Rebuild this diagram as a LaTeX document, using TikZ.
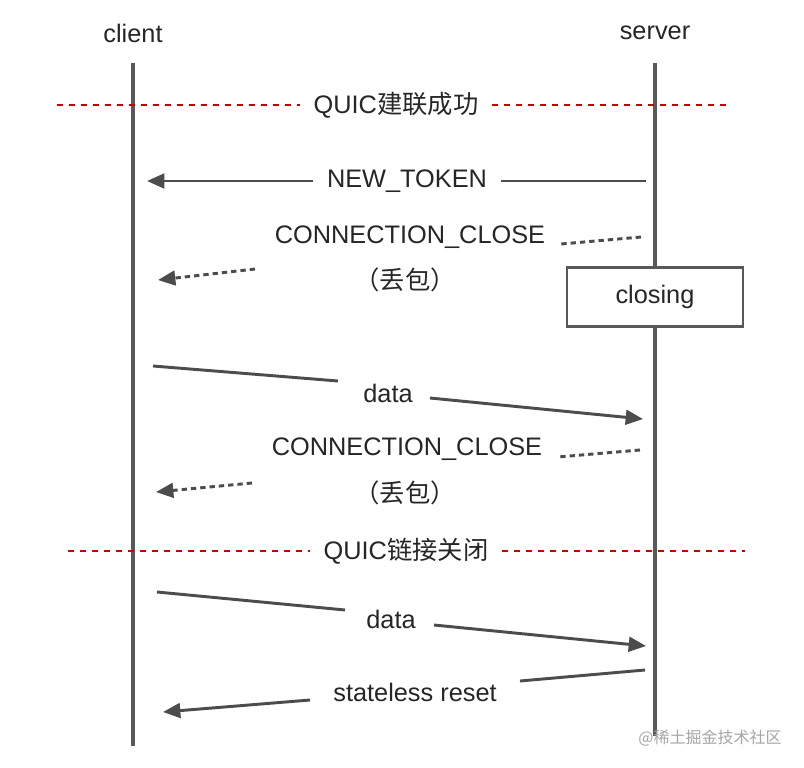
\documentclass[tikz,border=0pt]{standalone}
\usepackage{fontspec}
\setmainfont{Liberation Sans}
\newfontfamily\cjk{Noto Sans CJK SC}
\usetikzlibrary{arrows.meta}
\begin{document}
\begin{tikzpicture}[x=0.75pt,y=-0.75pt,
  life/.style={draw=black!65,line width=2.4pt},
  msg/.style={draw=black!70,line width=2.2pt},
  arr/.style={msg,-{Triangle[length=13pt,width=11pt]}},
  dsh/.style={dash pattern=on 4pt off 3pt},
  red/.style={draw=red!80!black,line width=2pt,dash pattern=on 4.5pt off 4.5pt},
  lbl/.style={font=\fontsize{19pt}{21pt}\selectfont,text=black!85,inner sep=0pt}]
\useasboundingbox[fill=white] (0,0) rectangle (804,768);
\node[lbl] (cl) at (133,33) {client};
\node[lbl] (sv) at (655,33) {server};
\coordinate (c0) at (133,63); \coordinate (c1) at (133,746);
\coordinate (s0) at (655,63); \coordinate (s1) at (655,736);
\draw[life] (c0) -- (c1);
\draw[life] (s0) -- (s1);
% phase 1
\node[lbl] (p1) at (396,105) {QUIC{\cjk 建联成功}};
\coordinate (p1a) at (57,105); \coordinate (p1b) at (730,105);
\draw[red] (p1a) -- ([xshift=-10pt]p1.west);
\draw[red] ([xshift=10pt]p1.east) -- (p1b);
% NEW_TOKEN
\node[lbl] (nt) at (407,181) {NEW\_TOKEN};
\coordinate (nt0) at (646,181); \coordinate (nt1) at (147,181);
\draw[msg] (nt0) -- ([xshift=10pt]nt.east);
\draw[arr] ([xshift=-10pt]nt.west) -- (nt1);
% close 1
\node[lbl] (cc1) at (410,237) {CONNECTION\_CLOSE};
\node[lbl] (lo1) at (405,280) {\cjk （丢包）};
\coordinate (cc1a) at (641,237); \coordinate (cc1b) at (561,244);
\coordinate (cc1c) at (255,269); \coordinate (cc1d) at (158,280);
\draw[msg,dsh] (cc1a) -- (cc1b);
\draw[arr,dsh] (cc1c) -- (cc1d);
\node[draw=black!65,fill=white,line width=2.2pt,minimum width=132pt,minimum height=44pt,lbl] (clo) at (655,297) {closing};
% data 1
\node[lbl] (d1) at (388,393) {data};
\coordinate (d1a) at (153,366); \coordinate (d1b) at (643,419);
\draw[msg] (d1a) -- (338,381);
\draw[arr] (430,398) -- (d1b);
% close 2
\node[lbl] (cc2) at (407,449) {CONNECTION\_CLOSE};
\node[lbl] (lo2) at (405,493) {\cjk （丢包）};
\coordinate (cc2a) at (640,450); \coordinate (cc2b) at (558,457);
\coordinate (cc2c) at (252,483); \coordinate (cc2d) at (156,492);
\draw[msg,dsh] (cc2a) -- (cc2b);
\draw[arr,dsh] (cc2c) -- (cc2d);
% phase 2
\node[lbl] (p2) at (406,551) {QUIC{\cjk 链接关闭}};
\coordinate (p2a) at (68,551); \coordinate (p2b) at (745,551);
\draw[red] (p2a) -- ([xshift=-10pt]p2.west);
\draw[red] ([xshift=10pt]p2.east) -- (p2b);
% data 2
\node[lbl] (d2) at (391,619) {data};
\coordinate (d2a) at (157,592); \coordinate (d2b) at (646,646);
\draw[msg] (d2a) -- (345,610);
\draw[arr] (434,625) -- (d2b);
% stateless reset
\node[lbl] (sr) at (415,692) {stateless reset};
\coordinate (sra) at (645,670); \coordinate (srb) at (163,712);
\draw[msg] (sra) -- (520,681);
\draw[arr] (310,700) -- (srb);
\node[lbl,text=black!35,font=\cjk\fontsize{12pt}{14pt}\selectfont] (wm) at (710,738) {@稀土掘金技术社区};
\end{tikzpicture}
\end{document}
